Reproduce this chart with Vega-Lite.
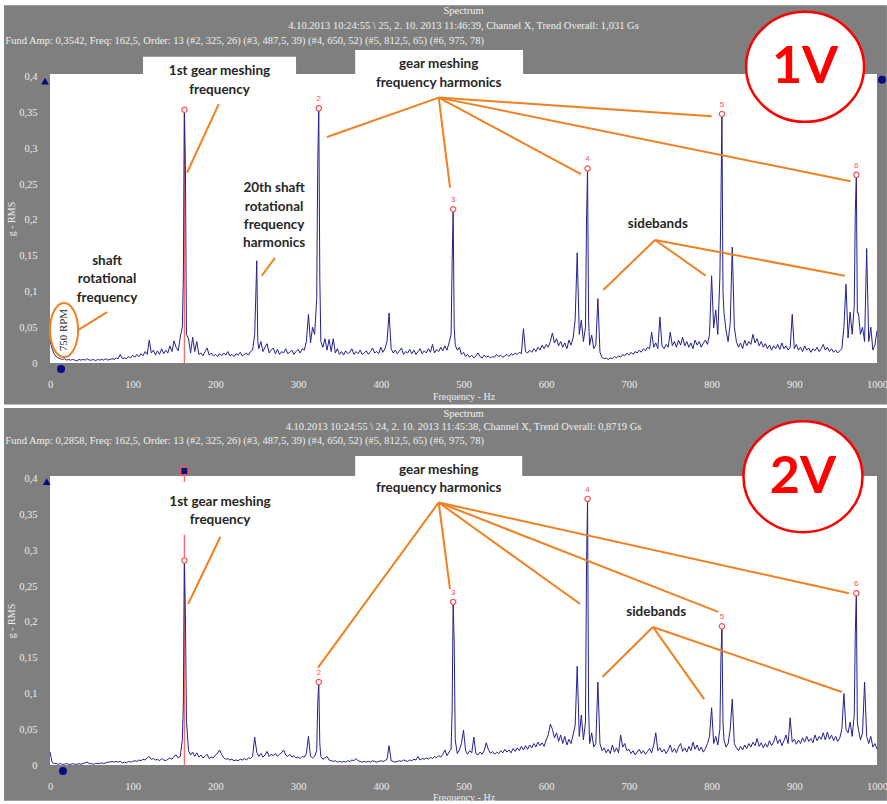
{
"$schema": "https://vega.github.io/schema/vega-lite/v6.json",
"padding": {"left": 4, "top": 5, "right": 0, "bottom": 0},
"background": "#ffffff",
"bounds": "flush",
"spacing": 113,
"config": {
  "view": {"stroke": null},
  "axis": {"labelFont": "Liberation Serif", "labelFontSize": 10.5, "labelColor": "#ededed", "titleFont": "Liberation Serif", "titleFontSize": 10, "titleColor": "#ededed", "titleFontWeight": "normal", "domain": false, "ticks": false, "grid": false, "labelFlush": false}
},
"datasets": {
"s1": [
{"f":0,"a":0.031},{"f":2.5,"a":0.02},{"f":5,"a":0.013},{"f":7.5,"a":0.009},{"f":10,"a":0.007},{"f":12.5,"a":0.006},{"f":15,"a":0.005},{"f":17.5,"a":0.006},{"f":20,"a":0.004},{"f":22.5,"a":0.005},{"f":25,"a":0.004},{"f":27.5,"a":0.005},{"f":30,"a":0.004},{"f":32.5,"a":0.003},{"f":35,"a":0.005},{"f":37.5,"a":0.004},{"f":40,"a":0.005},{"f":42.5,"a":0.004},{"f":45,"a":0.006},{"f":47.5,"a":0.004},{"f":50,"a":0.004},{"f":52.5,"a":0.005},{"f":55,"a":0.003},{"f":57.5,"a":0.005},{"f":60,"a":0.004},{"f":62.5,"a":0.005},{"f":65,"a":0.004},{"f":67.5,"a":0.006},{"f":70,"a":0.004},{"f":72.5,"a":0.005},{"f":75,"a":0.006},{"f":77.5,"a":0.005},{"f":80,"a":0.007},{"f":82.5,"a":0.006},{"f":85,"a":0.012},{"f":87.5,"a":0.006},{"f":90,"a":0.007},{"f":92.5,"a":0.006},{"f":95,"a":0.009},{"f":97.5,"a":0.007},
{"f":100,"a":0.011},{"f":102.5,"a":0.008},{"f":105,"a":0.012},{"f":107.5,"a":0.009},{"f":110,"a":0.013},{"f":112.5,"a":0.01},{"f":115,"a":0.016},{"f":117.5,"a":0.012},{"f":120,"a":0.032},{"f":122.5,"a":0.014},{"f":125,"a":0.018},{"f":127.5,"a":0.011},{"f":130,"a":0.017},{"f":132.5,"a":0.012},{"f":135,"a":0.02},{"f":137.5,"a":0.013},{"f":140,"a":0.018},{"f":142.5,"a":0.014},{"f":145,"a":0.024},{"f":147.5,"a":0.016},{"f":150,"a":0.031},{"f":152.5,"a":0.022},{"f":155,"a":0.017},{"f":157.5,"a":0.036},{"f":160,"a":0.05},{"f":161.25,"a":0.12},{"f":162.5,"a":0.354},{"f":163.75,"a":0.276},{"f":165,"a":0.04},{"f":167.5,"a":0.034},{"f":170,"a":0.014},{"f":172.5,"a":0.036},{"f":175,"a":0.016},{"f":177.5,"a":0.03},{"f":180,"a":0.012},{"f":182.5,"a":0.014},{"f":185,"a":0.01},{"f":187.5,"a":0.016},{"f":190,"a":0.021},{"f":192.5,"a":0.011},{"f":195,"a":0.014},{"f":197.5,"a":0.01},
{"f":200,"a":0.012},{"f":202.5,"a":0.009},{"f":205,"a":0.013},{"f":207.5,"a":0.01},{"f":210,"a":0.014},{"f":212.5,"a":0.011},{"f":215,"a":0.016},{"f":217.5,"a":0.01},{"f":220,"a":0.012},{"f":222.5,"a":0.009},{"f":225,"a":0.013},{"f":227.5,"a":0.011},{"f":230,"a":0.015},{"f":232.5,"a":0.01},{"f":235,"a":0.012},{"f":237.5,"a":0.014},{"f":240,"a":0.011},{"f":242.5,"a":0.016},{"f":245,"a":0.018},{"f":247.5,"a":0.04},{"f":248.75,"a":0.09},{"f":250,"a":0.143},{"f":251.25,"a":0.03},{"f":252.5,"a":0.02},{"f":255,"a":0.03},{"f":257.5,"a":0.016},{"f":260,"a":0.022},{"f":262.5,"a":0.027},{"f":265,"a":0.014},{"f":267.5,"a":0.018},{"f":270,"a":0.021},{"f":272.5,"a":0.013},{"f":275,"a":0.019},{"f":277.5,"a":0.012},{"f":280,"a":0.016},{"f":282.5,"a":0.014},{"f":285,"a":0.02},{"f":287.5,"a":0.013},{"f":290,"a":0.015},{"f":292.5,"a":0.018},{"f":295,"a":0.012},{"f":297.5,"a":0.016},
{"f":300,"a":0.019},{"f":302.5,"a":0.014},{"f":305,"a":0.02},{"f":307.5,"a":0.018},{"f":310,"a":0.03},{"f":312.5,"a":0.068},{"f":315,"a":0.028},{"f":317.5,"a":0.05},{"f":320,"a":0.04},{"f":322.5,"a":0.09},{"f":323.75,"a":0.28},{"f":325,"a":0.356},{"f":326.25,"a":0.12},{"f":327.5,"a":0.03},{"f":330,"a":0.022},{"f":332.5,"a":0.034},{"f":335,"a":0.018},{"f":337.5,"a":0.033},{"f":340,"a":0.016},{"f":342.5,"a":0.034},{"f":345,"a":0.014},{"f":347.5,"a":0.02},{"f":350,"a":0.012},{"f":352.5,"a":0.016},{"f":355,"a":0.011},{"f":357.5,"a":0.017},{"f":360,"a":0.013},{"f":362.5,"a":0.015},{"f":365,"a":0.02},{"f":367.5,"a":0.012},{"f":370,"a":0.016},{"f":372.5,"a":0.013},{"f":375,"a":0.018},{"f":377.5,"a":0.012},{"f":380,"a":0.014},{"f":382.5,"a":0.017},{"f":385,"a":0.012},{"f":387.5,"a":0.016},{"f":390,"a":0.021},{"f":392.5,"a":0.014},{"f":395,"a":0.016},{"f":397.5,"a":0.013},
{"f":400,"a":0.022},{"f":402.5,"a":0.015},{"f":405,"a":0.02},{"f":407.5,"a":0.03},{"f":410,"a":0.07},{"f":412.5,"a":0.02},{"f":415,"a":0.014},{"f":417.5,"a":0.018},{"f":420,"a":0.013},{"f":422.5,"a":0.017},{"f":425,"a":0.021},{"f":427.5,"a":0.012},{"f":430,"a":0.016},{"f":432.5,"a":0.014},{"f":435,"a":0.019},{"f":437.5,"a":0.013},{"f":440,"a":0.018},{"f":442.5,"a":0.012},{"f":445,"a":0.016},{"f":447.5,"a":0.02},{"f":450,"a":0.013},{"f":452.5,"a":0.017},{"f":455,"a":0.014},{"f":457.5,"a":0.02},{"f":460,"a":0.015},{"f":462.5,"a":0.026},{"f":465,"a":0.014},{"f":467.5,"a":0.019},{"f":470,"a":0.016},{"f":472.5,"a":0.022},{"f":475,"a":0.017},{"f":477.5,"a":0.024},{"f":480,"a":0.018},{"f":482.5,"a":0.028},{"f":485,"a":0.04},{"f":486.25,"a":0.14},{"f":487.5,"a":0.215},{"f":488.75,"a":0.05},{"f":490,"a":0.025},{"f":492.5,"a":0.018},{"f":495,"a":0.022},{"f":497.5,"a":0.012},
{"f":500,"a":0.015},{"f":502.5,"a":0.009},{"f":505,"a":0.012},{"f":507.5,"a":0.008},{"f":510,"a":0.011},{"f":512.5,"a":0.007},{"f":515,"a":0.01},{"f":517.5,"a":0.014},{"f":520,"a":0.009},{"f":522.5,"a":0.007},{"f":525,"a":0.011},{"f":527.5,"a":0.008},{"f":530,"a":0.01},{"f":532.5,"a":0.007},{"f":535,"a":0.009},{"f":537.5,"a":0.008},{"f":540,"a":0.012},{"f":542.5,"a":0.009},{"f":545,"a":0.011},{"f":547.5,"a":0.008},{"f":550,"a":0.01},{"f":552.5,"a":0.012},{"f":555,"a":0.009},{"f":557.5,"a":0.013},{"f":560,"a":0.011},{"f":562.5,"a":0.014},{"f":565,"a":0.012},{"f":567.5,"a":0.015},{"f":570,"a":0.013},{"f":572.5,"a":0.048},{"f":575,"a":0.016},{"f":577.5,"a":0.014},{"f":580,"a":0.018},{"f":582.5,"a":0.015},{"f":585,"a":0.02},{"f":587.5,"a":0.016},{"f":590,"a":0.022},{"f":592.5,"a":0.018},{"f":595,"a":0.025},{"f":597.5,"a":0.02},
{"f":600,"a":0.026},{"f":602.5,"a":0.022},{"f":605,"a":0.03},{"f":607.5,"a":0.042},{"f":610,"a":0.028},{"f":612.5,"a":0.034},{"f":615,"a":0.024},{"f":617.5,"a":0.03},{"f":620,"a":0.022},{"f":622.5,"a":0.028},{"f":625,"a":0.02},{"f":627.5,"a":0.032},{"f":630,"a":0.025},{"f":632.5,"a":0.035},{"f":635,"a":0.06},{"f":637.5,"a":0.154},{"f":640,"a":0.04},{"f":642.5,"a":0.06},{"f":645,"a":0.03},{"f":647.5,"a":0.05},{"f":648.75,"a":0.2},{"f":650,"a":0.272},{"f":651.25,"a":0.06},{"f":652.5,"a":0.025},{"f":655,"a":0.039},{"f":657.5,"a":0.02},{"f":660,"a":0.025},{"f":662.5,"a":0.09},{"f":665,"a":0.015},{"f":667.5,"a":0.008},{"f":670,"a":0.006},{"f":672.5,"a":0.007},{"f":675,"a":0.005},{"f":677.5,"a":0.007},{"f":680,"a":0.006},{"f":682.5,"a":0.009},{"f":685,"a":0.007},{"f":687.5,"a":0.01},{"f":690,"a":0.008},{"f":692.5,"a":0.012},{"f":695,"a":0.01},{"f":697.5,"a":0.014},
{"f":700,"a":0.011},{"f":702.5,"a":0.015},{"f":705,"a":0.012},{"f":707.5,"a":0.016},{"f":710,"a":0.014},{"f":712.5,"a":0.018},{"f":715,"a":0.015},{"f":717.5,"a":0.02},{"f":720,"a":0.017},{"f":722.5,"a":0.022},{"f":725,"a":0.02},{"f":727.5,"a":0.043},{"f":730,"a":0.022},{"f":732.5,"a":0.028},{"f":735,"a":0.02},{"f":737.5,"a":0.064},{"f":740,"a":0.024},{"f":742.5,"a":0.02},{"f":745,"a":0.026},{"f":747.5,"a":0.022},{"f":750,"a":0.043},{"f":752.5,"a":0.024},{"f":755,"a":0.03},{"f":757.5,"a":0.022},{"f":760,"a":0.032},{"f":762.5,"a":0.025},{"f":765,"a":0.036},{"f":767.5,"a":0.024},{"f":770,"a":0.03},{"f":772.5,"a":0.022},{"f":775,"a":0.028},{"f":777.5,"a":0.02},{"f":780,"a":0.032},{"f":782.5,"a":0.025},{"f":785,"a":0.03},{"f":787.5,"a":0.022},{"f":790,"a":0.028},{"f":792.5,"a":0.032},{"f":795,"a":0.026},{"f":797.5,"a":0.04},
{"f":800,"a":0.122},{"f":802.5,"a":0.049},{"f":805,"a":0.074},{"f":807.5,"a":0.04},{"f":810,"a":0.12},{"f":811.25,"a":0.22},{"f":812.5,"a":0.348},{"f":813.75,"a":0.1},{"f":815,"a":0.07},{"f":817.5,"a":0.045},{"f":820,"a":0.03},{"f":822.5,"a":0.055},{"f":825,"a":0.162},{"f":827.5,"a":0.05},{"f":830,"a":0.03},{"f":832.5,"a":0.022},{"f":835,"a":0.028},{"f":837.5,"a":0.02},{"f":840,"a":0.032},{"f":842.5,"a":0.024},{"f":845,"a":0.03},{"f":847.5,"a":0.026},{"f":850,"a":0.04},{"f":852.5,"a":0.028},{"f":855,"a":0.034},{"f":857.5,"a":0.024},{"f":860,"a":0.03},{"f":862.5,"a":0.022},{"f":865,"a":0.027},{"f":867.5,"a":0.02},{"f":870,"a":0.025},{"f":872.5,"a":0.018},{"f":875,"a":0.024},{"f":877.5,"a":0.02},{"f":880,"a":0.026},{"f":882.5,"a":0.019},{"f":885,"a":0.028},{"f":887.5,"a":0.02},{"f":890,"a":0.024},{"f":892.5,"a":0.018},{"f":895,"a":0.022},{"f":897.5,"a":0.068},
{"f":900,"a":0.02},{"f":902.5,"a":0.026},{"f":905,"a":0.018},{"f":907.5,"a":0.022},{"f":910,"a":0.016},{"f":912.5,"a":0.024},{"f":915,"a":0.018},{"f":917.5,"a":0.021},{"f":920,"a":0.015},{"f":922.5,"a":0.02},{"f":925,"a":0.017},{"f":927.5,"a":0.022},{"f":930,"a":0.016},{"f":932.5,"a":0.02},{"f":935,"a":0.026},{"f":937.5,"a":0.018},{"f":940,"a":0.022},{"f":942.5,"a":0.016},{"f":945,"a":0.02},{"f":947.5,"a":0.015},{"f":950,"a":0.018},{"f":952.5,"a":0.014},{"f":955,"a":0.017},{"f":957.5,"a":0.02},{"f":960,"a":0.05},{"f":962.5,"a":0.11},{"f":965,"a":0.035},{"f":967.5,"a":0.071},{"f":970,"a":0.04},{"f":972.5,"a":0.08},{"f":973.75,"a":0.21},{"f":975,"a":0.263},{"f":976.25,"a":0.07},{"f":977.5,"a":0.07},{"f":980,"a":0.04},{"f":982.5,"a":0.05},{"f":985,"a":0.03},{"f":987.5,"a":0.16},{"f":990,"a":0.03},{"f":992.5,"a":0.05},{"f":995,"a":0.018},{"f":997.5,"a":0.025},{"f":1000,"a":0.045}
],
"s2": [
{"f":0,"a":0.018},{"f":2.5,"a":0.004},{"f":5,"a":0.002},{"f":7.5,"a":0.002},{"f":10,"a":0.001},{"f":12.5,"a":0.002},{"f":15,"a":0.001},{"f":17.5,"a":0.001},{"f":20,"a":0.002},{"f":22.5,"a":0.001},{"f":25,"a":0.001},{"f":27.5,"a":0.002},{"f":30,"a":0.001},{"f":32.5,"a":0.001},{"f":35,"a":0.002},{"f":37.5,"a":0.001},{"f":40,"a":0.002},{"f":42.5,"a":0.003},{"f":45,"a":0.004},{"f":47.5,"a":0.002},{"f":50,"a":0.002},{"f":52.5,"a":0.001},{"f":55,"a":0.002},{"f":57.5,"a":0.002},{"f":60,"a":0.002},{"f":62.5,"a":0.003},{"f":65,"a":0.002},{"f":67.5,"a":0.003},{"f":70,"a":0.004},{"f":72.5,"a":0.004},{"f":75,"a":0.005},{"f":77.5,"a":0.004},{"f":80,"a":0.005},{"f":82.5,"a":0.004},{"f":85,"a":0.005},{"f":87.5,"a":0.003},{"f":90,"a":0.004},{"f":92.5,"a":0.003},{"f":95,"a":0.005},{"f":97.5,"a":0.004},
{"f":100,"a":0.005},{"f":102.5,"a":0.006},{"f":105,"a":0.005},{"f":107.5,"a":0.007},{"f":110,"a":0.006},{"f":112.5,"a":0.008},{"f":115,"a":0.007},{"f":117.5,"a":0.01},{"f":120,"a":0.012},{"f":122.5,"a":0.008},{"f":125,"a":0.009},{"f":127.5,"a":0.007},{"f":130,"a":0.008},{"f":132.5,"a":0.006},{"f":135,"a":0.009},{"f":137.5,"a":0.007},{"f":140,"a":0.006},{"f":142.5,"a":0.008},{"f":145,"a":0.01},{"f":147.5,"a":0.008},{"f":150,"a":0.012},{"f":152.5,"a":0.014},{"f":155,"a":0.01},{"f":157.5,"a":0.012},{"f":160,"a":0.035},{"f":161.25,"a":0.085},{"f":162.5,"a":0.286},{"f":163.75,"a":0.21},{"f":165,"a":0.062},{"f":167.5,"a":0.02},{"f":170,"a":0.014},{"f":172.5,"a":0.018},{"f":175,"a":0.012},{"f":177.5,"a":0.017},{"f":180,"a":0.011},{"f":182.5,"a":0.014},{"f":185,"a":0.01},{"f":187.5,"a":0.012},{"f":190,"a":0.015},{"f":192.5,"a":0.009},{"f":195,"a":0.011},{"f":197.5,"a":0.01},
{"f":200,"a":0.014},{"f":202.5,"a":0.016},{"f":205,"a":0.021},{"f":207.5,"a":0.015},{"f":210,"a":0.01},{"f":212.5,"a":0.008},{"f":215,"a":0.009},{"f":217.5,"a":0.007},{"f":220,"a":0.008},{"f":222.5,"a":0.006},{"f":225,"a":0.007},{"f":227.5,"a":0.006},{"f":230,"a":0.008},{"f":232.5,"a":0.007},{"f":235,"a":0.009},{"f":237.5,"a":0.007},{"f":240,"a":0.01},{"f":242.5,"a":0.009},{"f":245,"a":0.012},{"f":247.5,"a":0.039},{"f":250,"a":0.018},{"f":252.5,"a":0.012},{"f":255,"a":0.016},{"f":257.5,"a":0.011},{"f":260,"a":0.014},{"f":262.5,"a":0.019},{"f":265,"a":0.012},{"f":267.5,"a":0.015},{"f":270,"a":0.013},{"f":272.5,"a":0.016},{"f":275,"a":0.012},{"f":277.5,"a":0.015},{"f":280,"a":0.017},{"f":282.5,"a":0.021},{"f":285,"a":0.014},{"f":287.5,"a":0.012},{"f":290,"a":0.015},{"f":292.5,"a":0.011},{"f":295,"a":0.013},{"f":297.5,"a":0.01},
{"f":300,"a":0.011},{"f":302.5,"a":0.009},{"f":305,"a":0.012},{"f":307.5,"a":0.011},{"f":310,"a":0.016},{"f":312.5,"a":0.04},{"f":315,"a":0.012},{"f":317.5,"a":0.01},{"f":320,"a":0.012},{"f":322.5,"a":0.02},{"f":323.75,"a":0.087},{"f":325,"a":0.116},{"f":326.25,"a":0.03},{"f":327.5,"a":0.012},{"f":330,"a":0.008},{"f":332.5,"a":0.01},{"f":335,"a":0.012},{"f":337.5,"a":0.007},{"f":340,"a":0.006},{"f":342.5,"a":0.005},{"f":345,"a":0.006},{"f":347.5,"a":0.004},{"f":350,"a":0.005},{"f":352.5,"a":0.004},{"f":355,"a":0.005},{"f":357.5,"a":0.004},{"f":360,"a":0.006},{"f":362.5,"a":0.005},{"f":365,"a":0.007},{"f":367.5,"a":0.006},{"f":370,"a":0.009},{"f":372.5,"a":0.006},{"f":375,"a":0.005},{"f":377.5,"a":0.004},{"f":380,"a":0.005},{"f":382.5,"a":0.004},{"f":385,"a":0.005},{"f":387.5,"a":0.004},{"f":390,"a":0.006},{"f":392.5,"a":0.005},{"f":395,"a":0.004},{"f":397.5,"a":0.005},
{"f":400,"a":0.006},{"f":402.5,"a":0.005},{"f":405,"a":0.006},{"f":407.5,"a":0.008},{"f":410,"a":0.027},{"f":412.5,"a":0.006},{"f":415,"a":0.005},{"f":417.5,"a":0.004},{"f":420,"a":0.005},{"f":422.5,"a":0.006},{"f":425,"a":0.005},{"f":427.5,"a":0.007},{"f":430,"a":0.006},{"f":432.5,"a":0.005},{"f":435,"a":0.007},{"f":437.5,"a":0.006},{"f":440,"a":0.008},{"f":442.5,"a":0.007},{"f":445,"a":0.012},{"f":447.5,"a":0.007},{"f":450,"a":0.009},{"f":452.5,"a":0.008},{"f":455,"a":0.01},{"f":457.5,"a":0.008},{"f":460,"a":0.011},{"f":462.5,"a":0.009},{"f":465,"a":0.012},{"f":467.5,"a":0.01},{"f":470,"a":0.013},{"f":472.5,"a":0.011},{"f":475,"a":0.015},{"f":477.5,"a":0.021},{"f":480,"a":0.013},{"f":482.5,"a":0.018},{"f":485,"a":0.022},{"f":486.25,"a":0.077},{"f":487.5,"a":0.228},{"f":488.75,"a":0.17},{"f":490,"a":0.035},{"f":492.5,"a":0.016},{"f":495,"a":0.021},{"f":497.5,"a":0.03},
{"f":500,"a":0.049},{"f":502.5,"a":0.02},{"f":505,"a":0.015},{"f":507.5,"a":0.02},{"f":510,"a":0.017},{"f":512.5,"a":0.039},{"f":515,"a":0.016},{"f":517.5,"a":0.014},{"f":520,"a":0.018},{"f":522.5,"a":0.015},{"f":525,"a":0.02},{"f":527.5,"a":0.031},{"f":530,"a":0.022},{"f":532.5,"a":0.016},{"f":535,"a":0.019},{"f":537.5,"a":0.015},{"f":540,"a":0.018},{"f":542.5,"a":0.016},{"f":545,"a":0.02},{"f":547.5,"a":0.017},{"f":550,"a":0.022},{"f":552.5,"a":0.018},{"f":555,"a":0.021},{"f":557.5,"a":0.017},{"f":560,"a":0.023},{"f":562.5,"a":0.019},{"f":565,"a":0.024},{"f":567.5,"a":0.02},{"f":570,"a":0.026},{"f":572.5,"a":0.021},{"f":575,"a":0.027},{"f":577.5,"a":0.022},{"f":580,"a":0.028},{"f":582.5,"a":0.024},{"f":585,"a":0.03},{"f":587.5,"a":0.025},{"f":590,"a":0.032},{"f":592.5,"a":0.027},{"f":595,"a":0.031},{"f":597.5,"a":0.026},
{"f":600,"a":0.035},{"f":602.5,"a":0.042},{"f":605,"a":0.057},{"f":607.5,"a":0.05},{"f":610,"a":0.038},{"f":612.5,"a":0.045},{"f":615,"a":0.033},{"f":617.5,"a":0.042},{"f":620,"a":0.03},{"f":622.5,"a":0.04},{"f":625,"a":0.028},{"f":627.5,"a":0.036},{"f":630,"a":0.03},{"f":632.5,"a":0.042},{"f":635,"a":0.055},{"f":637.5,"a":0.138},{"f":640,"a":0.04},{"f":642.5,"a":0.07},{"f":645,"a":0.035},{"f":647.5,"a":0.06},{"f":648.75,"a":0.28},{"f":650,"a":0.372},{"f":651.25,"a":0.08},{"f":652.5,"a":0.03},{"f":655,"a":0.045},{"f":657.5,"a":0.025},{"f":660,"a":0.03},{"f":662.5,"a":0.116},{"f":665,"a":0.03},{"f":667.5,"a":0.02},{"f":670,"a":0.024},{"f":672.5,"a":0.017},{"f":675,"a":0.022},{"f":677.5,"a":0.016},{"f":680,"a":0.028},{"f":682.5,"a":0.018},{"f":685,"a":0.024},{"f":687.5,"a":0.017},{"f":690,"a":0.042},{"f":692.5,"a":0.025},{"f":695,"a":0.03},{"f":697.5,"a":0.02},
{"f":700,"a":0.022},{"f":702.5,"a":0.016},{"f":705,"a":0.02},{"f":707.5,"a":0.014},{"f":710,"a":0.018},{"f":712.5,"a":0.022},{"f":715,"a":0.016},{"f":717.5,"a":0.02},{"f":720,"a":0.015},{"f":722.5,"a":0.019},{"f":725,"a":0.023},{"f":727.5,"a":0.017},{"f":730,"a":0.028},{"f":732.5,"a":0.045},{"f":735,"a":0.02},{"f":737.5,"a":0.024},{"f":740,"a":0.018},{"f":742.5,"a":0.022},{"f":745,"a":0.016},{"f":747.5,"a":0.021},{"f":750,"a":0.028},{"f":752.5,"a":0.018},{"f":755,"a":0.023},{"f":757.5,"a":0.017},{"f":760,"a":0.025},{"f":762.5,"a":0.03},{"f":765,"a":0.019},{"f":767.5,"a":0.024},{"f":770,"a":0.018},{"f":772.5,"a":0.026},{"f":775,"a":0.02},{"f":777.5,"a":0.032},{"f":780,"a":0.022},{"f":782.5,"a":0.028},{"f":785,"a":0.02},{"f":787.5,"a":0.025},{"f":790,"a":0.018},{"f":792.5,"a":0.023},{"f":795,"a":0.03},{"f":797.5,"a":0.04},
{"f":800,"a":0.08},{"f":802.5,"a":0.03},{"f":805,"a":0.04},{"f":807.5,"a":0.028},{"f":810,"a":0.05},{"f":811.25,"a":0.147},{"f":812.5,"a":0.194},{"f":813.75,"a":0.06},{"f":815,"a":0.035},{"f":817.5,"a":0.025},{"f":820,"a":0.03},{"f":822.5,"a":0.05},{"f":825,"a":0.092},{"f":827.5,"a":0.03},{"f":830,"a":0.024},{"f":832.5,"a":0.02},{"f":835,"a":0.026},{"f":837.5,"a":0.021},{"f":840,"a":0.028},{"f":842.5,"a":0.023},{"f":845,"a":0.03},{"f":847.5,"a":0.025},{"f":850,"a":0.032},{"f":852.5,"a":0.027},{"f":855,"a":0.037},{"f":857.5,"a":0.026},{"f":860,"a":0.031},{"f":862.5,"a":0.024},{"f":865,"a":0.03},{"f":867.5,"a":0.025},{"f":870,"a":0.034},{"f":872.5,"a":0.027},{"f":875,"a":0.032},{"f":877.5,"a":0.041},{"f":880,"a":0.03},{"f":882.5,"a":0.036},{"f":885,"a":0.027},{"f":887.5,"a":0.034},{"f":890,"a":0.042},{"f":892.5,"a":0.03},{"f":895,"a":0.066},{"f":897.5,"a":0.032},
{"f":900,"a":0.036},{"f":902.5,"a":0.029},{"f":905,"a":0.035},{"f":907.5,"a":0.03},{"f":910,"a":0.038},{"f":912.5,"a":0.032},{"f":915,"a":0.04},{"f":917.5,"a":0.033},{"f":920,"a":0.037},{"f":922.5,"a":0.031},{"f":925,"a":0.042},{"f":927.5,"a":0.034},{"f":930,"a":0.04},{"f":932.5,"a":0.036},{"f":935,"a":0.045},{"f":937.5,"a":0.035},{"f":940,"a":0.046},{"f":942.5,"a":0.036},{"f":945,"a":0.042},{"f":947.5,"a":0.034},{"f":950,"a":0.04},{"f":952.5,"a":0.033},{"f":955,"a":0.038},{"f":957.5,"a":0.05},{"f":960,"a":0.1},{"f":962.5,"a":0.05},{"f":965,"a":0.045},{"f":967.5,"a":0.06},{"f":970,"a":0.04},{"f":972.5,"a":0.07},{"f":973.75,"a":0.184},{"f":975,"a":0.24},{"f":976.25,"a":0.06},{"f":977.5,"a":0.05},{"f":980,"a":0.035},{"f":982.5,"a":0.045},{"f":985,"a":0.116},{"f":987.5,"a":0.04},{"f":990,"a":0.03},{"f":992.5,"a":0.04},{"f":995,"a":0.025},{"f":997.5,"a":0.03},{"f":1000,"a":0.022}
]
},
"vconcat": [
{
  "width": 827, "height": 289,
  "encoding": {
    "x": {"field": "f", "type": "quantitative", "scale": {"domain": [0, 1000], "nice": false, "zero": false}, "axis": {"zindex": 2, "values": [0,100,200,300,400,500,600,700,800,900,1000], "labelExpr": "'' + datum.value", "title": "Frequency - Hz", "labelPadding": 16, "titlePadding": 2}},
    "y": {"field": "a", "type": "quantitative", "scale": {"domain": [0, 0.404], "nice": false, "zero": false}, "axis": {"zindex": 2, "values": [0,0.05,0.1,0.15,0.2,0.25,0.3,0.35,0.4], "title": "g - RMS", "labelPadding": 13, "titlePadding": 2, "labelExpr": "replace(format(datum.value, '.2~f'), '.', ',')"}}
  },
  "layer": [
    {"data": {"values": [{"f": -55.6, "f2": 1012, "a": 0.5, "a2": -0.058}]}, "mark": {"type": "rect", "fill": "#7f7f7f"}, "encoding": {"x2": {"field": "f2"}, "y2": {"field": "a2"}}},
    {"data": {"values": [{"f": 0, "f2": 1000, "a": 0, "a2": 0.404}, {"f": 112.5, "f2": 297.5, "a": 0.39, "a2": 0.428}, {"f": 369, "f2": 572, "a": 0.39, "a2": 0.4376}]}, "mark": {"type": "rect", "fill": "#ffffff"}, "encoding": {"x2": {"field": "f2"}, "y2": {"field": "a2"}}},
    {"data": {"values": [{"f": 162.5, "f2": 162.5, "a": 0, "a2": 0.354}]}, "mark": {"type": "rule", "color": "#ff6a6a", "strokeWidth": 1.3}, "encoding": {"x2": {"field": "f2"}, "y2": {"field": "a2"}}},
    {"data": {"name": "s1"}, "mark": {"type": "line", "color": "#22228e", "strokeWidth": 1}},
    {"data": {"values": [
      {"f": 204, "a": 0.362, "f2": 165.7, "a2": 0.266},
      {"f": 470, "a": 0.371, "f2": 335, "a2": 0.316},
      {"f": 470, "a": 0.371, "f2": 483.7, "a2": 0.245},
      {"f": 470, "a": 0.371, "f2": 642, "a2": 0.264},
      {"f": 470, "a": 0.371, "f2": 800, "a2": 0.345},
      {"f": 470, "a": 0.371, "f2": 968, "a2": 0.254},
      {"f": 731.6, "a": 0.172, "f2": 669, "a2": 0.102},
      {"f": 731.6, "a": 0.172, "f2": 793, "a2": 0.122},
      {"f": 731.6, "a": 0.172, "f2": 961, "a2": 0.122},
      {"f": 272, "a": 0.147, "f2": 256, "a2": 0.122},
      {"f": 33.9, "a": 0.046, "f2": 68.9, "a2": 0.071}
    ]}, "mark": {"type": "rule", "color": "#f08020", "strokeWidth": 2}, "encoding": {"x2": {"field": "f2"}, "y2": {"field": "a2"}}},
    {"data": {"values": [{"f": 17, "a": 0.046}]}, "mark": {"type": "point", "shape": "M0,-1A0.52,1 0 1,1 0,1A0.52,1 0 1,1 0,-1Z", "size": 2916, "filled": false, "stroke": "#f08020", "strokeWidth": 2, "opacity": 1}},
    {"data": {"values": [{"f": 17, "a": 0.046, "t": "750 RPM"}]}, "mark": {"type": "text", "angle": 270, "font": "Liberation Serif", "fontSize": 11, "color": "#262626", "align": "center", "baseline": "middle"}, "encoding": {"text": {"field": "t"}}},
    {"data": {"values": [
      {"f": 205, "a": 0.408, "t": "1st gear meshing"}, {"f": 205, "a": 0.382, "t": "frequency"},
      {"f": 470, "a": 0.418, "t": "gear meshing"}, {"f": 470, "a": 0.392, "t": "frequency harmonics"},
      {"f": 735, "a": 0.194, "t": "sidebands"},
      {"f": 271, "a": 0.245, "t": "20th shaft"}, {"f": 271, "a": 0.218, "t": "rotational"}, {"f": 271, "a": 0.193, "t": "frequency"}, {"f": 271, "a": 0.168, "t": "harmonics"},
      {"f": 69, "a": 0.143, "t": "shaft"}, {"f": 69, "a": 0.117, "t": "rotational"}, {"f": 69, "a": 0.091, "t": "frequency"}
    ]}, "mark": {"type": "text", "font": "Lato", "fontWeight": "bold", "fontSize": 13.5, "color": "#262626", "align": "center", "baseline": "middle"}, "encoding": {"text": {"field": "t"}}},
    {"data": {"values": [{"f": 162.5, "a": 0.354, "t": ""}, {"f": 325, "a": 0.356, "t": "2"}, {"f": 487.5, "a": 0.215, "t": "3"}, {"f": 650, "a": 0.272, "t": "4"}, {"f": 812.5, "a": 0.348, "t": "5"}, {"f": 975, "a": 0.263, "t": "6"}]}, "mark": {"type": "point", "shape": "circle", "size": 28, "filled": true, "fill": "#ffffff", "stroke": "#ff4d4d", "strokeWidth": 1.2, "opacity": 1}},
    {"data": {"values": [{"f": 325, "a": 0.356, "t": "2"}, {"f": 487.5, "a": 0.215, "t": "3"}, {"f": 650, "a": 0.272, "t": "4"}, {"f": 812.5, "a": 0.348, "t": "5"}, {"f": 975, "a": 0.263, "t": "6"}]}, "mark": {"type": "text", "font": "Liberation Sans", "fontSize": 8, "color": "#ff4d4d", "dy": -9, "align": "center", "baseline": "middle"}, "encoding": {"text": {"field": "t"}}},
    {"data": {"values": [{"f": -6, "a": 0.394}]}, "mark": {"type": "point", "shape": "triangle-up", "size": 60, "filled": true, "color": "#0a0a80", "opacity": 1}},
    {"data": {"values": [{"f": 13.3, "a": -0.0084}, {"f": 1006, "a": 0.396}]}, "mark": {"type": "point", "shape": "circle", "size": 64, "filled": true, "color": "#0a0a80", "opacity": 1}},
    {"data": {"values": [{"f": 913, "a": 0.414}]}, "mark": {"type": "point", "shape": "M-1,0A1,0.932 0 1,1 1,0A1,0.932 0 1,1 -1,0Z", "size": 13924, "filled": true, "fill": "#ffffff", "stroke": "#ff0000", "strokeWidth": 2.5, "opacity": 1}},
    {"data": {"values": [{"f": 913, "a": 0.414, "t": "1V"}]}, "mark": {"type": "text", "font": "Lato", "fontWeight": "bold", "fontSize": 52, "color": "#ff0000", "align": "center", "baseline": "middle"}, "encoding": {"text": {"field": "t"}}},
    {"data": {"values": [{"f": 500, "a": 0.492, "t": "Spectrum"}, {"f": 500, "a": 0.471, "t": "4.10.2013 10:24:55 \\ 25, 2. 10. 2013 11:46:39, Channel X, Trend Overall: 1,031 Gs"}]}, "mark": {"type": "text", "font": "Liberation Serif", "fontSize": 10.5, "color": "#f0f0f0", "align": "center", "baseline": "middle"}, "encoding": {"text": {"field": "t"}}},
    {"data": {"values": [{"f": -54, "a": 0.45, "t": "Fund Amp: 0,3542, Freq: 162,5, Order: 13 (#2, 325, 26) (#3, 487,5, 39) (#4, 650, 52) (#5, 812,5, 65) (#6, 975, 78)"}]}, "mark": {"type": "text", "font": "Liberation Serif", "fontSize": 10.5, "color": "#f0f0f0", "align": "left", "baseline": "middle"}, "encoding": {"text": {"field": "t"}}}
  ]
},
{
  "width": 827, "height": 289,
  "encoding": {
    "x": {"field": "f", "type": "quantitative", "scale": {"domain": [0, 1000], "nice": false, "zero": false}, "axis": {"zindex": 2, "values": [0,100,200,300,400,500,600,700,800,900,1000], "labelExpr": "'' + datum.value", "title": "Frequency - Hz", "labelPadding": 16, "titlePadding": 1}},
    "y": {"field": "a", "type": "quantitative", "scale": {"domain": [0, 0.404], "nice": false, "zero": false}, "axis": {"zindex": 2, "values": [0,0.05,0.1,0.15,0.2,0.25,0.3,0.35,0.4], "title": "g - RMS", "labelPadding": 13, "titlePadding": 2, "labelExpr": "replace(format(datum.value, '.2~f'), '.', ',')"}}
  },
  "layer": [
    {"data": {"values": [{"f": -55.6, "f2": 1012, "a": 0.499, "a2": -0.05}]}, "mark": {"type": "rect", "fill": "#7f7f7f"}, "encoding": {"x2": {"field": "f2"}, "y2": {"field": "a2"}}},
    {"data": {"values": [{"f": 0, "f2": 1000, "a": 0, "a2": 0.404}, {"f": 369, "f2": 571, "a": 0.39, "a2": 0.432}]}, "mark": {"type": "rect", "fill": "#ffffff"}, "encoding": {"x2": {"field": "f2"}, "y2": {"field": "a2"}}},
    {"data": {"values": [{"f": 162.5, "f2": 162.5, "a": 0, "a2": 0.411}]}, "mark": {"type": "rule", "color": "#ff6a6a", "strokeWidth": 1.3}, "encoding": {"x2": {"field": "f2"}, "y2": {"field": "a2"}}},
    {"data": {"name": "s2"}, "mark": {"type": "line", "color": "#22228e", "strokeWidth": 1}},
    {"data": {"values": [{"f": 112, "f2": 297, "a": 0.322, "a2": 0.396}]}, "mark": {"type": "rect", "fill": "#ffffff"}, "encoding": {"x2": {"field": "f2"}, "y2": {"field": "a2"}}},
    {"data": {"values": [
      {"f": 206, "a": 0.319, "f2": 167, "a2": 0.225},
      {"f": 470, "a": 0.367, "f2": 324, "a2": 0.136},
      {"f": 470, "a": 0.367, "f2": 483.7, "a2": 0.246},
      {"f": 470, "a": 0.367, "f2": 641, "a2": 0.225},
      {"f": 470, "a": 0.367, "f2": 808, "a2": 0.214},
      {"f": 470, "a": 0.367, "f2": 966, "a2": 0.24},
      {"f": 729, "a": 0.193, "f2": 668, "a2": 0.123},
      {"f": 729, "a": 0.193, "f2": 791, "a2": 0.092},
      {"f": 729, "a": 0.193, "f2": 957.5, "a2": 0.102}
    ]}, "mark": {"type": "rule", "color": "#f08020", "strokeWidth": 2}, "encoding": {"x2": {"field": "f2"}, "y2": {"field": "a2"}}},
    {"data": {"values": [
      {"f": 205.6, "a": 0.367, "t": "1st gear meshing"}, {"f": 205.6, "a": 0.342, "t": "frequency"},
      {"f": 470, "a": 0.412, "t": "gear meshing"}, {"f": 470, "a": 0.387, "t": "frequency harmonics"},
      {"f": 733, "a": 0.214, "t": "sidebands"}
    ]}, "mark": {"type": "text", "font": "Lato", "fontWeight": "bold", "fontSize": 13.5, "color": "#262626", "align": "center", "baseline": "middle"}, "encoding": {"text": {"field": "t"}}},
    {"data": {"values": [{"f": 162.5, "a": 0.286, "t": ""}, {"f": 325, "a": 0.116, "t": "2"}, {"f": 487.5, "a": 0.228, "t": "3"}, {"f": 650, "a": 0.372, "t": "4"}, {"f": 812.5, "a": 0.194, "t": "5"}, {"f": 975, "a": 0.24, "t": "6"}]}, "mark": {"type": "point", "shape": "circle", "size": 28, "filled": true, "fill": "#ffffff", "stroke": "#ff4d4d", "strokeWidth": 1.2, "opacity": 1}},
    {"data": {"values": [{"f": 325, "a": 0.116, "t": "2"}, {"f": 487.5, "a": 0.228, "t": "3"}, {"f": 650, "a": 0.372, "t": "4"}, {"f": 812.5, "a": 0.194, "t": "5"}, {"f": 975, "a": 0.24, "t": "6"}]}, "mark": {"type": "text", "font": "Liberation Sans", "fontSize": 8, "color": "#ff4d4d", "dy": -9, "align": "center", "baseline": "middle"}, "encoding": {"text": {"field": "t"}}},
    {"data": {"values": [{"f": -4, "a": 0.396}]}, "mark": {"type": "point", "shape": "triangle-up", "size": 60, "filled": true, "color": "#0a0a80", "opacity": 1}},
    {"data": {"values": [{"f": 15.7, "a": -0.0084}]}, "mark": {"type": "point", "shape": "circle", "size": 64, "filled": true, "color": "#0a0a80", "opacity": 1}},
    {"data": {"values": [{"f": 162.5, "a": 0.411}]}, "mark": {"type": "point", "shape": "square", "size": 49, "filled": true, "fill": "#0a0a80", "stroke": "#ff4d4d", "strokeWidth": 1.2, "opacity": 1}},
    {"data": {"values": [{"f": 910.5, "a": 0.403}]}, "mark": {"type": "point", "shape": "M-1,0A1,0.932 0 1,1 1,0A1,0.932 0 1,1 -1,0Z", "size": 14161, "filled": true, "fill": "#ffffff", "stroke": "#ff0000", "strokeWidth": 2.5, "opacity": 1}},
    {"data": {"values": [{"f": 910.5, "a": 0.403, "t": "2V"}]}, "mark": {"type": "text", "font": "Lato", "fontWeight": "bold", "fontSize": 52, "color": "#ff0000", "align": "center", "baseline": "middle"}, "encoding": {"text": {"field": "t"}}},
    {"data": {"values": [{"f": 500, "a": 0.491, "t": "Spectrum"}, {"f": 500, "a": 0.472, "t": "4.10.2013 10:24:55 \\ 24, 2. 10. 2013 11:45:38, Channel X, Trend Overall: 0,8719 Gs"}]}, "mark": {"type": "text", "font": "Liberation Serif", "fontSize": 10.5, "color": "#f0f0f0", "align": "center", "baseline": "middle"}, "encoding": {"text": {"field": "t"}}},
    {"data": {"values": [{"f": -54, "a": 0.453, "t": "Fund Amp: 0,2858, Freq: 162,5, Order: 13 (#2, 325, 26) (#3, 487,5, 39) (#4, 650, 52) (#5, 812,5, 65) (#6, 975, 78)"}]}, "mark": {"type": "text", "font": "Liberation Serif", "fontSize": 10.5, "color": "#f0f0f0", "align": "left", "baseline": "middle"}, "encoding": {"text": {"field": "t"}}}
  ]
}
]
}
